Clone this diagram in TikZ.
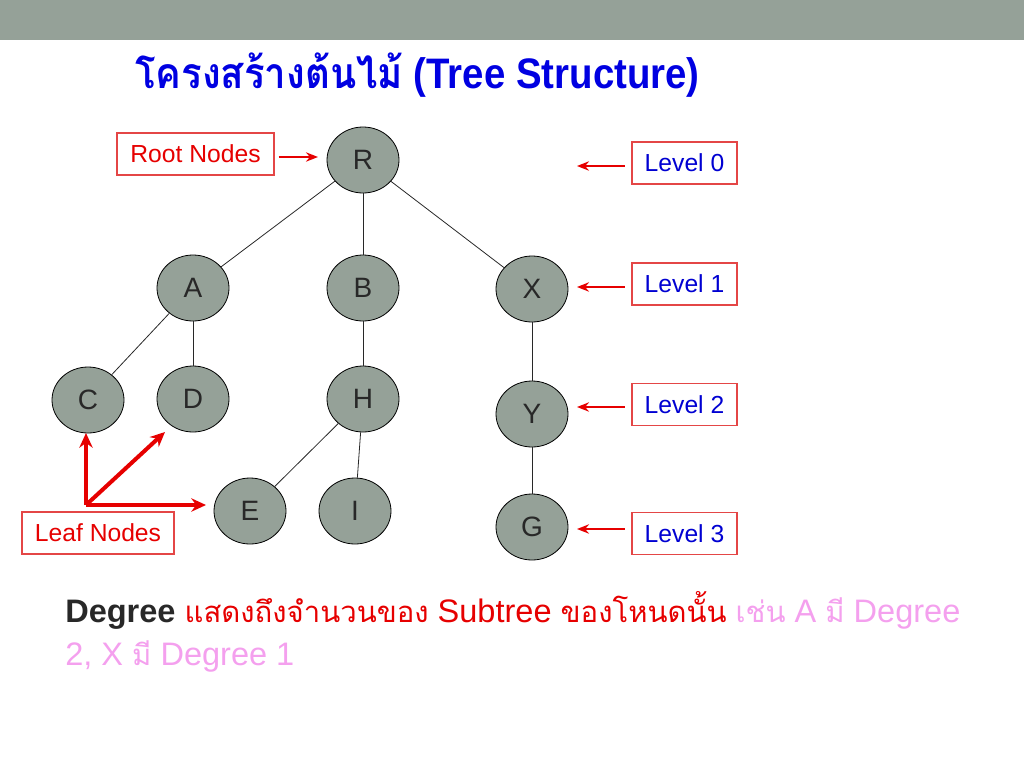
\documentclass[tikz,border=0pt]{standalone}
\usepackage{fontspec}
\setmainfont{Liberation Sans}
\newfontfamily\thaifont[Script=Thai]{Loma}
\newfontfamily\thaitext[Script=Thai,Scale=0.9]{Loma}
\usetikzlibrary{shapes.geometric,arrows.meta}
\definecolor{bargray}{RGB}{149,161,152}
\definecolor{nodegray}{RGB}{149,161,152}
\definecolor{tred}{RGB}{230,0,0}
\definecolor{boxred}{RGB}{228,70,70}
\definecolor{tblue}{RGB}{0,0,225}
\definecolor{lblue}{RGB}{0,0,210}
\definecolor{tpink}{RGB}{244,160,238}
\definecolor{ink}{RGB}{40,40,40}
\tikzset{
  tnode/.style={ellipse, draw=black, line width=0.6pt, fill=nodegray, minimum width=54pt, minimum height=49.5pt, inner sep=0pt, text=ink, font=\fontsize{21}{24}\selectfont},
  edge/.style={draw=ink, line width=0.6pt},
  tagbox/.style={draw=boxred, line width=0.8pt, fill=white, inner sep=0pt, font=\fontsize{18.5}{22}\selectfont},
  redarrow/.style={draw=tred, line width=2pt, -{Stealth[length=9pt,width=7pt]}},
  leafarrow/.style={draw=tred, line width=3pt, -{Stealth[length=11pt,width=10pt]}},
}
\begin{document}
\begin{tikzpicture}[x=0.75pt,y=-0.75pt]
\useasboundingbox (0,0) rectangle (1024,768);
\fill[bargray] (0,0) rectangle (1024,40);
% title
\node[anchor=base west, text=tblue, font=\fontsize{32}{36}\selectfont\bfseries, inner sep=0pt, xscale=0.9] (title) at (135,88) {{\thaifont โครงสร้างต้นไม้} (Tree Structure)};
% tree nodes
\node[tnode] (R) at (363,160) {R};
\node[tnode] (A) at (193,288) {A};
\node[tnode] (B) at (363,288) {B};
\node[tnode] (X) at (532,289) {X};
\node[tnode] (C) at (88,400) {C};
\node[tnode] (D) at (193,399) {D};
\node[tnode] (H) at (363,399) {H};
\node[tnode] (Y) at (532,414) {Y};
\node[tnode] (E) at (250,511) {E};
\node[tnode] (I) at (355,511) {I};
\node[tnode] (G) at (532,527) {G};
\draw[edge] (R) -- (A);
\draw[edge] (R) -- (B);
\draw[edge] (R) -- (X);
\draw[edge] (A) -- (C);
\draw[edge] (A) -- (D);
\draw[edge] (B) -- (H);
\draw[edge] (H) -- (E);
\draw[edge] (H) -- (I);
\draw[edge] (X) -- (Y);
\draw[edge] (Y) -- (G);
% root label
\node[tagbox, text=tred, minimum width=117.75pt, minimum height=31.5pt] (root) at (195.5,154) {Root Nodes};
\coordinate (rt) at (318,157);
\draw[redarrow] ([xshift=3pt]root.east |- rt) -- (rt);
% level labels
\node[tagbox, text=lblue, minimum width=78.75pt, minimum height=31.5pt] (L0) at (684.5,163) {Level 0};
\node[tagbox, text=lblue, minimum width=78.75pt, minimum height=31.5pt] (L1) at (684.5,284) {Level 1};
\node[tagbox, text=lblue, minimum width=78.75pt, minimum height=31.5pt] (L2) at (684.5,404.5) {Level 2};
\node[tagbox, text=lblue, minimum width=78.75pt, minimum height=31.5pt] (L3) at (684.5,533.5) {Level 3};
\coordinate (e0) at (577,166);
\coordinate (e1) at (577,287);
\coordinate (e2) at (577,407);
\coordinate (e3) at (577,529);
\draw[redarrow] ([xshift=-5pt]L0.west |- e0) -- (e0);
\draw[redarrow] ([xshift=-5pt]L1.west |- e1) -- (e1);
\draw[redarrow] ([xshift=-5pt]L2.west |- e2) -- (e2);
\draw[redarrow] ([xshift=-5pt]L3.west |- e3) -- (e3);
% leaf label
\node[tagbox, text=tred, minimum width=114pt, minimum height=31.5pt] (leaf) at (98,533) {Leaf Nodes};
\coordinate (lo) at (86,505);
\coordinate (lc) at (86,433);
\coordinate (ld) at (165,432);
\coordinate (le) at (206,505);
\draw[leafarrow] (lo) -- (lc);
\draw[leafarrow] (lo) -- (ld);
\draw[leafarrow] (lo) -- (le);
% description
\node[anchor=base west, inner sep=0pt, font=\fontsize{24.4}{28}\selectfont] (desc1) at (65,622) {\textbf{\color{ink}Degree} {\color{tred}{\thaitext แสดงถึงจำนวนของ} Subtree {\thaitext ของโหนดนั้น}} {\color{tpink}{\thaitext เช่น} A {\thaitext มี} Degree}};
\node[anchor=base west, inner sep=0pt, font=\fontsize{24.4}{28}\selectfont, text=tpink] (desc2) at (65,665) {2, X {\thaitext มี} Degree 1};
\end{tikzpicture}
\end{document}
